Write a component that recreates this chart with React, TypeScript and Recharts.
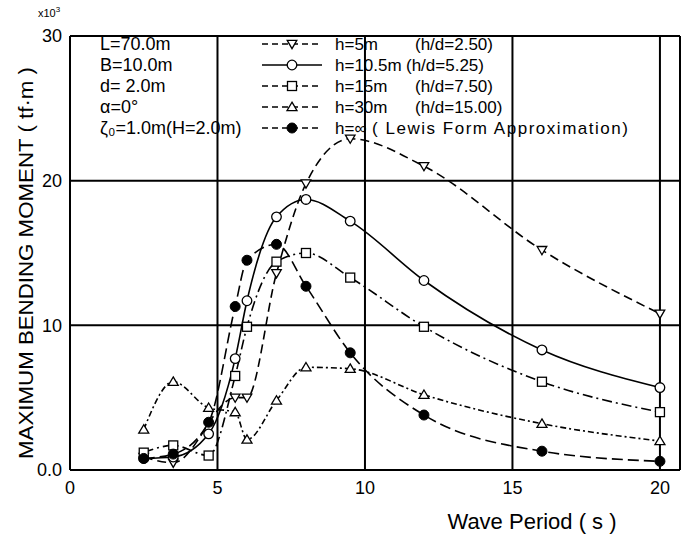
import React from 'react';
import { LineChart, Line, XAxis, YAxis, CartesianGrid } from 'recharts';

const periods = [2.5, 3.5, 4.7, 5.6, 6.0, 7.0, 8.0, 9.5, 12, 16, 20];
const h5 = [0.9, 0.5, null, 5.0, 5.0, 13.6, 19.8, 22.9, 21.0, 15.2, 10.8];
const h105 = [0.8, 0.9, 2.5, 7.7, 11.7, 17.5, 18.7, 17.2, 13.1, 8.3, 5.7];
const h15 = [1.2, 1.7, 1.0, 6.5, 9.9, 14.4, 15.0, 13.3, 9.9, 6.1, 4.0];
const h30 = [2.8, 6.1, 4.3, 4.0, 2.1, 4.8, 7.1, 7.0, 5.2, 3.2, 2.0];
const hInf = [0.8, 1.1, 3.3, 11.3, 14.5, 15.6, 12.7, 8.1, 3.8, 1.3, 0.6];

const xTicks = [0, 5, 10, 15, 20];
const yTicks = [0, 10, 20, 30];
const yTickLabels = ['0.0', '10', '20', '30'];

const params = ['L=70.0m', 'B=10.0m', 'd=  2.0m', 'α=0°', 'ζ₀=1.0m(H=2.0m)'];
const legendNames = ['h=5m', 'h=10.5m', 'h=15m', 'h=30m', 'h=∞'];
const legendNotes = ['(h/d=2.50)', '(h/d=5.25)', '(h/d=7.50)', '(h/d=15.00)', '( Lewis  Form  Approximation)'];

const data = periods.map((t, i) => ({
  t,
  h5: h5[i],
  h105: h105[i],
  h15: h15[i],
  h30: h30[i],
  hInf: hInf[i],
}));

const FONT = '"Liberation Sans", "DejaVu Sans", sans-serif';

type Shape = 'triDown' | 'circle' | 'square' | 'triUp' | 'filled';

function marker(shape: Shape, cx: number, cy: number, key?: any) {
  const sw = 1.3;
  switch (shape) {
    case 'triDown':
      return <path key={key} d={`M${cx - 4.8},${cy - 3.6} L${cx + 4.8},${cy - 3.6} L${cx},${cy + 4.6} Z`} fill="#fff" stroke="#000" strokeWidth={sw} />;
    case 'circle':
      return <circle key={key} cx={cx} cy={cy} r={4.8} fill="#fff" stroke="#000" strokeWidth={sw} />;
    case 'square':
      return <rect key={key} x={cx - 4.5} y={cy - 4.5} width={9} height={9} fill="#fff" stroke="#000" strokeWidth={sw} />;
    case 'triUp':
      return <path key={key} d={`M${cx},${cy - 4.8} L${cx + 5},${cy + 3.6} L${cx - 5},${cy + 3.6} Z`} fill="#fff" stroke="#000" strokeWidth={sw} />;
    default:
      return <circle key={key} cx={cx} cy={cy} r={5} fill="#000" stroke="#000" strokeWidth={1} />;
  }
}

const makeDot = (shape: Shape) => (p: any) => {
  const { cx, cy, index, value } = p;
  if (cx == null || cy == null || value == null || Number.isNaN(cy)) return <g key={`n${index}`} />;
  return marker(shape, cx, cy, `${shape}${index}`);
};

const series: { key: string; shape: Shape; dash?: string }[] = [
  { key: 'h5', shape: 'triDown', dash: '9 5' },
  { key: 'h105', shape: 'circle' },
  { key: 'h15', shape: 'square', dash: '10 4 2 4' },
  { key: 'h30', shape: 'triUp', dash: '6 3 2 3' },
  { key: 'hInf', shape: 'filled', dash: '11 5' },
];

export default function App() {
  return (
    <div style={{ position: 'absolute', left: 0, top: 0, width: 681, height: 537, background: '#fff', fontFamily: FONT }}>
      <LineChart width={681} height={537} data={data} margin={{ top: 36, right: 1, bottom: 37, left: 10 }}>
        <CartesianGrid stroke="#000" strokeWidth={2} />
        <XAxis
          dataKey="t"
          type="number"
          domain={[0, 20.68]}
          ticks={xTicks}
          allowDataOverflow
          height={30}
          tickLine={false}
          tickSize={0}
          tickMargin={11}
          axisLine={{ stroke: '#000', strokeWidth: 2 }}
          tick={{ fill: '#000', fontSize: 18, fontFamily: FONT }}
        />
        <YAxis
          type="number"
          domain={[0, 30]}
          ticks={yTicks}
          width={60}
          tickLine={false}
          tickSize={0}
          tickMargin={8}
          axisLine={{ stroke: '#000', strokeWidth: 2 }}
          tickFormatter={(v: number) => yTickLabels[yTicks.indexOf(v)]}
          tick={{ fill: '#000', fontSize: 18, fontFamily: FONT }}
        />
        {series.map((s) => (
          <Line
            key={s.key}
            dataKey={s.key}
            type="monotone"
            stroke="#000"
            strokeWidth={1.6}
            strokeDasharray={s.dash}
            connectNulls
            isAnimationActive={false}
            dot={makeDot(s.shape)}
            activeDot={false}
          />
        ))}
      </LineChart>
      <svg width={681} height={537} style={{ position: 'absolute', left: 0, top: 0, pointerEvents: 'none' }}>
        <text x={38} y={17} fontSize={11} fontFamily={FONT} fill="#000">
          x10<tspan dy={-5} fontSize={8}>3</tspan>
        </text>
        <text
          transform="translate(33,263) rotate(-90)"
          textAnchor="middle"
          fontSize={20}
          fontFamily={FONT}
          fill="#000"
          textLength={392}
          lengthAdjust="spacingAndGlyphs"
        >
          MAXIMUM BENDING MOMENT  ( tf·m )
        </text>
        <text x={532} y={529} textAnchor="middle" fontSize={22} fontFamily={FONT} fill="#000">
          Wave Period ( s )
        </text>
        {params.map((p, i) => (
          <text key={p} x={100} y={50 + i * 21} fontSize={18} fontFamily={FONT} fill="#000">
            {p}
          </text>
        ))}
        {series.map((s, i) => {
          const y = 44 + i * 21;
          return (
            <g key={s.key}>
              <line x1={262} y1={y} x2={322} y2={y} stroke="#000" strokeWidth={1.5} strokeDasharray={s.dash ? '6 4' : undefined} />
              {marker(s.shape, 292, y)}
              <text x={335} y={y + 6} fontSize={17} fontFamily={FONT} fill="#000">{legendNames[i]}</text>
              {i === 4 ? (
                <text x={372} y={y + 6} fontSize={17} fontFamily={FONT} fill="#000" textLength={256} lengthAdjust="spacing">{legendNotes[i]}</text>
              ) : (
                <text x={i === 1 ? 406 : 415} y={y + 6} fontSize={17} fontFamily={FONT} fill="#000">{legendNotes[i]}</text>
              )}
            </g>
          );
        })}
      </svg>
    </div>
  );
}
